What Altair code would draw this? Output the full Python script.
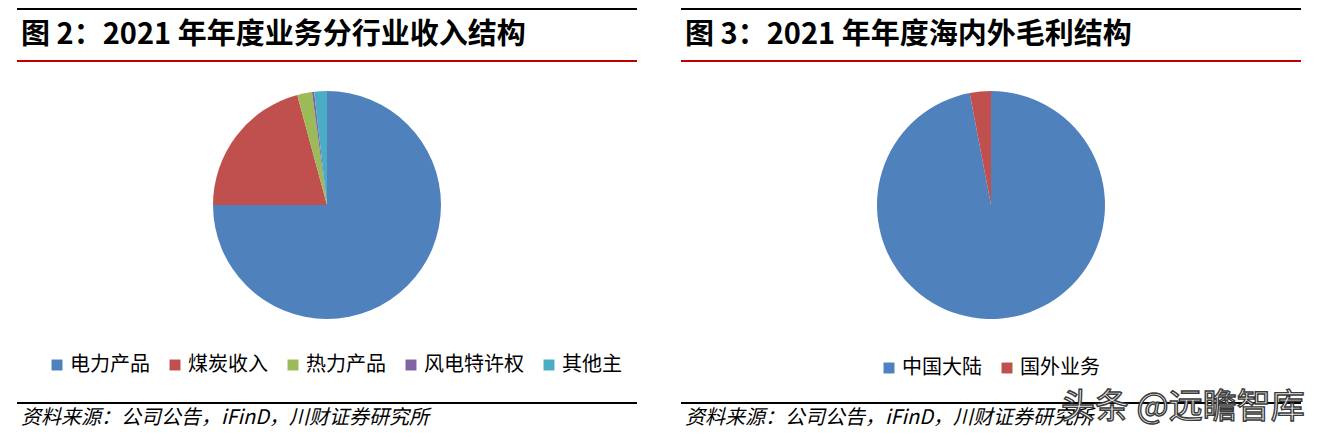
import altair as alt
import pandas as pd

# ---- data ----
cats1 = ["电力产品", "煤炭收入", "热力产品", "风电特许权", "其他主"]
vals1 = [75.0, 20.8, 2.1, 0.3, 1.8]
colors1 = ["#4F81BD", "#C0504D", "#9BBB59", "#8064A2", "#4BACC6"]

cats2 = ["中国大陆", "国外业务"]
vals2 = [97.0, 3.0]
colors2 = ["#4F81BD", "#C0504D"]

title1 = "图 2：2021 年年度业务分行业收入结构"
title2 = "图 3：2021 年年度海内外毛利结构"
source = "资料来源：公司公告，iFinD，川财证券研究所"
watermark = "头条 @远瞻智库"

FONT = "Noto Sans CJK SC"

df1 = pd.DataFrame({"cat": cats1, "v": vals1, "idx": list(range(len(cats1)))})
df2 = pd.DataFrame({"cat": cats2, "v": vals2, "idx": list(range(len(cats2)))})
one = pd.DataFrame({"a": [0]})


def legend(x, y):
    return alt.Legend(
        orient="none", legendX=x, legendY=y, direction="horizontal", title=None,
        symbolType="square", symbolSize=120, symbolStrokeWidth=0,
        labelFont=FONT, labelFontSize=20, labelColor="#000000",
        labelOffset=3, columnPadding=15, padding=0,
    )


def pie(df, cats, colors, cx, cy, lx, ly):
    return alt.Chart(df).mark_arc(radius=114).encode(
        theta=alt.Theta("v:Q", stack=True),
        color=alt.Color("cat:N", scale=alt.Scale(domain=cats, range=colors),
                        legend=legend(lx, ly)),
        order=alt.Order("idx:Q"),
        x=alt.value(cx), y=alt.value(cy),
    )


def rule(x1, x2, y, color, w=2):
    return alt.Chart(one).mark_rule(color=color, strokeWidth=w).encode(
        x=alt.value(x1), x2=alt.value(x2), y=alt.value(y))


def text(t, x, y, **kw):
    return alt.Chart(pd.DataFrame({"t": [t]})).mark_text(
        align="left", baseline="middle", font=FONT, **kw
    ).encode(text="t:N", x=alt.value(x), y=alt.value(y))


layers = []
for off, ttl in [(0, title1), (664, title2)]:
    layers.append(rule(9 + off, 629 + off, 1, "#000000"))
    layers.append(text(ttl, 13 + off, 27, fontSize=29, fontWeight="bold", color="#000000"))
    layers.append(rule(9 + off, 629 + off, 53, "#C00000"))
    layers.append(rule(9 + off, 629 + off, 395, "#000000"))
    layers.append(text(source, 13 + off, 410, fontSize=20, fontStyle="italic", color="#000000"))

pies = alt.layer(
    pie(df1, cats1, colors1, 319, 197, 39, 347),
    pie(df2, cats2, colors2, 983, 197, 871, 350),
).resolve_scale(color="independent", theta="independent")

wm = text(watermark, 1053, 400, fontSize=34, color="#f4f4f4", stroke="#3a3a3a",
          strokeWidth=1.4)

chart = alt.layer(pies, *layers, wm).properties(
    width=1304, height=424,
    autosize=alt.AutoSizeParams(type="none"),
    padding=0,
).configure_view(stroke=None)

chart.save("out.html", embed_options={"renderer": "svg", "actions": False})
